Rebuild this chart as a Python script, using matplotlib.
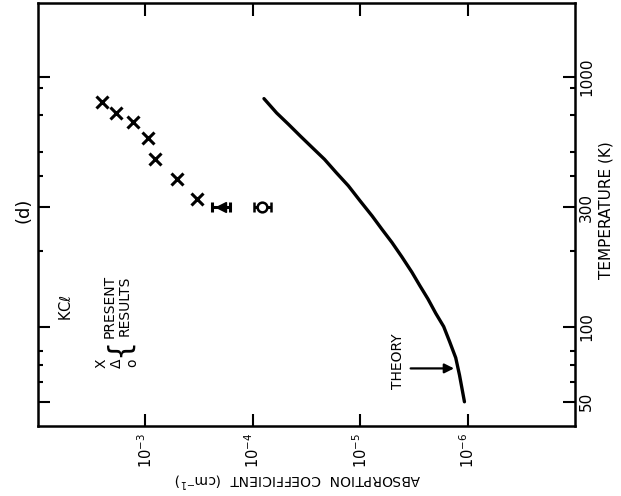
import matplotlib
matplotlib.use("Agg")
import matplotlib.pyplot as plt
from matplotlib.ticker import FixedLocator, NullLocator, NullFormatter, FixedFormatter

# ---------------- data ----------------
theory_T = [50, 64, 75, 87, 100, 113, 129, 146, 165, 190, 217, 245, 277,
            318, 366, 413, 467, 520, 578, 644, 716, 817]
theory_alpha = [1.07e-6, 1.19e-6, 1.29e-6, 1.47e-6, 1.67e-6, 1.98e-6,
                2.34e-6, 2.79e-6, 3.30e-6, 4.09e-6, 5.06e-6, 6.27e-6,
                7.74e-6, 1.0e-5, 1.29e-5, 1.67e-5, 2.15e-5, 2.79e-5,
                3.6e-5, 4.64e-5, 6.0e-5, 7.87e-5]

cross_T = [324, 391, 470, 568, 660, 713, 793]
cross_alpha = [3.3e-4, 5.1e-4, 8.2e-4, 9.4e-4, 1.31e-3, 1.87e-3, 2.56e-3]

tri_T = [300]
tri_alpha = [1.97e-4]
tri_lo = [1.64e-4]
tri_hi = [2.39e-4]

circ_T = [300]
circ_alpha = [8.15e-5]
circ_lo = [6.7e-5]
circ_hi = [9.8e-5]

alpha_ticks = [1e-3, 1e-4, 1e-5, 1e-6]
alpha_labels = ['10$^{-3}$', '10$^{-4}$', '10$^{-5}$', '10$^{-6}$']
T_major = [50, 100, 300, 1000]
T_major_labels = ['50', '100', '300', '1000']
T_minor = [60, 70, 80, 200, 400, 500, 700, 900]

# ---------------- figure ----------------
plt.rcParams['font.family'] = ['DejaVu Sans']
W, H = 621, 496
fig = plt.figure(figsize=(W / 100, H / 100), dpi=100)
ax = fig.add_axes([38 / W, 1 - 426 / H, (575 - 38) / W, (426 - 3) / H])

ax.set_xscale('log')
ax.set_yscale('log')
ax.set_xlim(1e-2, 1e-7)     # inverted: larger coefficients on the left
ax.set_ylim(40, 1972)

# theory curve
ax.plot(theory_alpha, theory_T, color='black', lw=2.4,
        solid_capstyle='round', solid_joinstyle='round')

# present results
ax.plot(cross_alpha, cross_T, linestyle='none', marker='x', color='black',
        markersize=9, markeredgewidth=2.2)
ax.errorbar(tri_alpha, tri_T,
            xerr=[[a - l for a, l in zip(tri_alpha, tri_lo)],
                  [h - a for a, h in zip(tri_alpha, tri_hi)]],
            fmt='<', color='black', markersize=7, elinewidth=2.2,
            capsize=3.5, capthick=2.2)
ax.errorbar(circ_alpha, circ_T,
            xerr=[[a - l for a, l in zip(circ_alpha, circ_lo)],
                  [h - a for a, h in zip(circ_alpha, circ_hi)]],
            fmt='o', color='black', mfc='white', markersize=7, mew=1.8,
            elinewidth=2.2, capsize=3.5, capthick=2.2)

# axes styling
for s in ax.spines.values():
    s.set_linewidth(1.8)

ax.xaxis.set_major_locator(FixedLocator(alpha_ticks))
ax.xaxis.set_major_formatter(FixedFormatter(alpha_labels))
ax.xaxis.set_minor_locator(NullLocator())
ax.tick_params(axis='x', which='major', direction='in', top=True, bottom=True,
               length=9, width=1.5, labelsize=10.5, labelrotation=90, pad=5)

ax.yaxis.set_major_locator(FixedLocator(T_major))
ax.yaxis.set_major_formatter(FixedFormatter(T_major_labels))
ax.yaxis.set_minor_locator(FixedLocator(T_minor))
ax.yaxis.set_minor_formatter(NullFormatter())
ax.tick_params(axis='y', which='both', direction='in', left=True, right=True,
               labelleft=False, labelright=True, width=1.5)
ax.tick_params(axis='y', which='major', length=8.5, labelsize=11, pad=3)
ax.tick_params(axis='y', which='minor', length=3.5)
for lab in ax.get_yticklabels():
    lab.set_rotation(90)
    lab.set_va('center')

# axis titles
fig.text(606 / W, 1 - 210 / H, 'TEMPERATURE (K)', rotation=90, fontsize=11,
         ha='center', va='center')
fig.text(298 / W, 1 - 480 / H, 'ABSORPTION  COEFFICIENT  (cm$^{-1}$)',
         rotation=180, fontsize=10, ha='center', va='center')

# annotations
fig.text(23 / W, 1 - 210 / H, '(d)', rotation=90, fontsize=13,
         ha='center', va='center')
fig.text(66 / W, 1 - 308 / H, 'KC$\\ell$', rotation=90, fontsize=10.5,
         ha='center', va='center')
fig.text(102 / W, 1 - 363 / H, 'X', rotation=90, fontsize=10,
         ha='center', va='center')
fig.text(117 / W, 1 - 363 / H, '\u0394', rotation=90, fontsize=10,
         ha='center', va='center')
fig.text(132 / W, 1 - 363 / H, 'o', rotation=90, fontsize=10,
         ha='center', va='center')
fig.text(118 / W, 1 - 347 / H, '{', rotation=90, fontsize=22,
         ha='center', va='center')
fig.text(110 / W, 1 - 306 / H, 'PRESENT', rotation=90, fontsize=10,
         ha='center', va='center')
fig.text(125 / W, 1 - 306 / H, 'RESULTS', rotation=90, fontsize=10,
         ha='center', va='center')

ax.annotate('', xy=(1.26e-6, 68), xytext=(3.6e-6, 68),
            arrowprops=dict(arrowstyle='-|>', color='black', lw=1.6,
                            mutation_scale=14))
ax.text(4.4e-6, 73, 'THEORY', rotation=90, fontsize=10,
        ha='center', va='center')

fig.savefig('out.png', dpi=100)
